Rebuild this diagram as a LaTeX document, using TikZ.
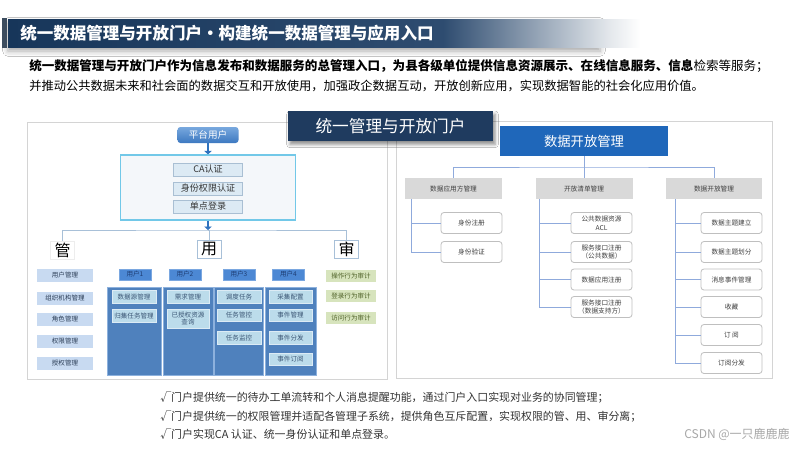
\documentclass[tikz,border=0pt]{standalone}
\usepackage{fontspec}
\setmainfont{Noto Sans CJK SC}
\usetikzlibrary{arrows.meta,shadows.blur,calc}
\newdimen\pxu
\pxu=0.75pt
\newcommand\myfs[2]{\fontsize{#1}{#2}\selectfont}
\definecolor{navyA}{HTML}{17365A}
\definecolor{navyB}{HTML}{2E4C70}
\definecolor{navyC}{HTML}{1F3B5F}
\definecolor{fadeEnd}{HTML}{E4E8EC}
\definecolor{barleft}{HTML}{3D4D5F}
\definecolor{panelgrey}{HTML}{D4D4D4}
\definecolor{puTop}{HTML}{78A8DE}
\definecolor{puBot}{HTML}{3C78C0}
\definecolor{authBorder}{HTML}{72C8E8}
\definecolor{authFill}{HTML}{F4F7FA}
\definecolor{authInner}{HTML}{DCEAF4}
\definecolor{authInnerD}{HTML}{A9BFD3}
\definecolor{darktext}{HTML}{333333}
\definecolor{lline}{HTML}{A8C0D8}
\definecolor{arrowblue}{HTML}{2F72BE}
\definecolor{gfill}{HTML}{C8DAF1}
\definecolor{gtext}{HTML}{2C3E57}
\definecolor{uhead}{HTML}{4C88D4}
\definecolor{uheadD}{HTML}{7AA7E0}
\definecolor{uheadT}{HTML}{1E3D73}
\definecolor{ucol}{HTML}{4F81BD}
\definecolor{ucolD}{HTML}{8DB1DD}
\definecolor{ibox}{HTML}{BCDCEB}
\definecolor{iboxD}{HTML}{DCEBF5}
\definecolor{iboxT}{HTML}{3B5675}
\definecolor{sfill}{HTML}{D7E4BD}
\definecolor{stext}{HTML}{4F6228}
\definecolor{rtop}{HTML}{1F67BA}
\definecolor{rcat}{HTML}{D9D9D9}
\definecolor{rtext}{HTML}{404040}
\definecolor{rchildD}{HTML}{BFBFBF}
\definecolor{rline}{HTML}{8FAADC}
\definecolor{wmgrey}{HTML}{A8A8A8}
\tikzset{
  panel/.style={draw=panelgrey, line width=1\pxu},
  authin/.style={fill=authInner, draw=authInnerD, line width=0.6\pxu, minimum width=69\pxu, minimum height=13\pxu, inner sep=0pt, text=darktext, font=\myfs{6.8}{8}},
  bigchar/.style={inner sep=0pt, minimum width=24\pxu, minimum height=18\pxu, font=\myfs{12}{14}, text=black},
  gbox/.style={fill=gfill, minimum width=56\pxu, minimum height=13\pxu, inner sep=0pt, text=gtext, font=\myfs{4.9}{6}},
  uhbox/.style={fill=uhead, draw=uheadD, line width=0.6\pxu, minimum width=32\pxu, minimum height=11\pxu, inner sep=0pt, text=uheadT, font=\myfs{4.9}{6}},
  ucolbox/.style={fill=ucol, draw=ucolD, line width=0.8\pxu, minimum height=88\pxu, inner sep=0pt},
  ibx/.style={fill=ibox, draw=iboxD, line width=0.6\pxu, minimum height=12.5\pxu, inner sep=0pt, text=iboxT, font=\myfs{4.9}{5.6}, align=center},
  sbox/.style={fill=sfill, minimum width=50\pxu, minimum height=12\pxu, inner sep=0pt, text=stext, font=\myfs{4.9}{6}},
  conn/.style={draw=lline, line width=1\pxu},
  arr/.style={draw=arrowblue, line width=1.8pt, -{Triangle[width=5.5pt,length=2.6pt]}},
  rcatbox/.style={fill=rcat, minimum width=97\pxu, minimum height=21\pxu, inner sep=0pt, text=rtext, font=\myfs{5}{6}},
  rchild/.style={fill=white, draw=rchildD, line width=0.8\pxu, rounded corners=2.2pt, minimum width=61\pxu, minimum height=21\pxu, inner sep=0pt, text=rtext, font=\myfs{5}{6.4}, align=center},
  rconn/.style={draw=rline, line width=1\pxu},
  bottomtxt/.style={anchor=west, inner sep=0pt, text=darktext, font=\myfs{8.2}{10}},
}
\begin{document}
\begin{tikzpicture}[x=0.75pt,y=-0.75pt]
\useasboundingbox (0,0) rectangle (800,450);
\fill[white] (0,0) rectangle (800,450);

% ---------- header banner ----------
\fill[white, blur shadow={shadow xshift=0pt, shadow yshift=-3pt, shadow blur radius=4pt, shadow opacity=35}] (8,19) rectangle (600,47);
\shade[left color=navyA, right color=navyB] (8,19) rectangle (443,47);
\shade[left color=navyB, right color=fadeEnd] (443,19) rectangle (610,47);
\shade[left color=fadeEnd, right color=white] (610,19) rectangle (640,47);
\fill[barleft] (2,18) rectangle (7,48);
\node[anchor=west, inner sep=0pt, text=white, font=\bfseries\myfs{12.4}{14}] (title) at (20,33)
  {统一数据管理与开放门户·构建统一数据管理与应用入口};

% ---------- intro paragraph ----------
\node[anchor=west, inner sep=0pt, text=black, font=\myfs{9.4}{11}] (p1) at (29,66)
  {\textbf{统一数据管理与开放门户作为信息发布和数据服务的总管理入口，为县各级单位提供信息资源展示、在线信息服务、信息}检索等服务；};
\node[anchor=west, inner sep=0pt, text=black, font=\myfs{9.2}{11}] (p2) at (29,86)
  {并推动公共数据未来和社会面的数据交互和开放使用，加强政企数据互动，开放创新应用，实现数据智能的社会化应用价值。};

% ---------- panels ----------
\draw[panel] (27,122) rectangle (387,379);
\draw[panel] (396,121) rectangle (772,378);

% ---------- left panel ----------
\node[rounded corners=2.2pt, top color=puTop, bottom color=puBot, text=white, minimum width=61\pxu, minimum height=16\pxu, inner sep=0pt, font=\myfs{7.2}{8}] (pu) at (208,135) {平台用户};
\node[draw=authBorder, fill=authFill, line width=1.2\pxu, minimum width=175\pxu, minimum height=65\pxu, inner sep=0pt] (auth) at (208,187.5) {};
\node[authin] (ca) at (208,169.5) {CA认证};
\node[authin] (sf) at (208,188.5) {身份权限认证};
\node[authin] (dd) at (208,206.5) {单点登录};
\draw[arr] (pu.south) -- (auth.north);
\coordinate (hub) at (208,230);
\draw[arr] (auth.south) -- (hub);

\node[bigchar, draw=black!7] (guan) at (62.5,250) {管};
\node[bigchar, draw=lline, fill=white] (yong) at (209,249) {用};
\node[bigchar, draw=lline, fill=white] (shen) at (346.5,249) {审};
\draw[conn] (guan.north) |- (hub) -| (shen.north);
\draw[conn] (hub) -| (yong.north);

\node[gbox] (g1) at (65,275) {用户管理};
\node[gbox] (g2) at (65,298) {组织机构管理};
\node[gbox] (g3) at (65,319) {角色管理};
\node[gbox] (g4) at (65,341.5) {权限管理};
\node[gbox] (g5) at (65,363) {授权管理};

\node[uhbox] (u1) at (135,274.5) {用户1};
\node[uhbox] (u2) at (185,274.5) {用户2};
\node[uhbox] (u3) at (239,274.5) {用户3};
\node[uhbox] (u4) at (288.5,274.5) {用户4};

\node[ucolbox, minimum width=54\pxu] (col1) at (134,331) {};
\node[ucolbox, minimum width=50\pxu] (col2) at (188,331) {};
\node[ucolbox, minimum width=49\pxu] (col3) at (238.5,331) {};
\node[ucolbox, minimum width=51\pxu] (col4) at (290.5,331) {};

\node[ibx, minimum width=44\pxu] (i11) at (134,297) {数据源管理};
\node[ibx, minimum width=44\pxu] (i12) at (134,316) {归集任务管理};
\node[ibx, minimum width=42\pxu] (i21) at (188,297) {需求管理};
\node[ibx, minimum width=42\pxu, minimum height=19\pxu] (i22) at (188,318.5) {已授权资源\\查询};
\node[ibx, minimum width=44\pxu] (i31) at (239,297) {调度任务};
\node[ibx, minimum width=44\pxu] (i32) at (239,315.5) {任务管控};
\node[ibx, minimum width=44\pxu] (i33) at (239,338) {任务监控};
\node[ibx, minimum width=43\pxu] (i41) at (290.5,297) {采集配置};
\node[ibx, minimum width=43\pxu] (i42) at (290.5,315.5) {事件管理};
\node[ibx, minimum width=43\pxu] (i43) at (290.5,338) {事件分发};
\node[ibx, minimum width=43\pxu] (i44) at (290.5,359.5) {事件订阅};

\node[sbox] (s1) at (351,276) {操作行为审计};
\node[sbox] (s2) at (351,296) {登录行为审计};
\node[sbox] (s3) at (351,318) {访问行为审计};

% ---------- right panel ----------
\node[fill=rtop, minimum width=168\pxu, minimum height=30\pxu, inner sep=0pt, text=white, font=\myfs{10}{12}] (dm) at (584,141) {数据开放管理};
\coordinate (rh) at (584,167);
\node[rcatbox] (cat1) at (453.5,188.5) {数据应用方管理};
\node[rcatbox] (cat2) at (584,188.5) {开放清单管理};
\node[rcatbox, minimum width=96\pxu] (cat3) at (714,188.5) {数据开放管理};
\draw[rconn] (dm.south) -- (rh);
\draw[rconn] (cat1.north) |- (rh) -| (cat3.north);
\draw[rconn] (rh) -- (cat2.north);

% column 1
\node[rchild] (a1) at (471.5,223) {身份注册};
\node[rchild] (a2) at (471.5,252) {身份验证};
\coordinate (t1) at ($(cat1.south west)+(7,0)$);
\draw[rconn] (t1) |- (a1.west);
\draw[rconn] (t1) |- (a2.west);

% column 2
\node[rchild] (b1) at (601.5,223) {公共数据资源\\ACL};
\node[rchild] (b2) at (601.5,252) {服务接口注册\\（公共数据）};
\node[rchild] (b3) at (601.5,279.5) {数据应用注册};
\node[rchild] (b4) at (601.5,307) {服务接口注册\\（数据支持方）};
\coordinate (t2) at ($(cat2.south west)+(4,0)$);
\foreach \n in {b1,b2,b3,b4} { \draw[rconn] (t2) |- (\n.west); }

% column 3
\node[rchild] (c1) at (731.5,223) {数据主题建立};
\node[rchild] (c2) at (731.5,252) {数据主题划分};
\node[rchild] (c3) at (731.5,279.5) {消息事件管理};
\node[rchild] (c4) at (731.5,307) {收藏};
\node[rchild] (c5) at (731.5,335) {订 阅};
\node[rchild] (c6) at (731.5,363) {订阅分发};
\coordinate (t3) at ($(cat3.south west)+(10,0)$);
\foreach \n in {c1,c2,c3,c4,c5,c6} { \draw[rconn] (t3) |- (\n.west); }

% ---------- centre title ----------
\node[fill=navyC, minimum width=205\pxu, minimum height=30\pxu, inner sep=0pt, text=white, font=\myfs{12.5}{14},
  blur shadow={shadow xshift=1.5pt, shadow yshift=-2.5pt, shadow blur radius=2.5pt, shadow opacity=45}] (ctitle) at (390.5,126) {统一管理与开放门户};

% ---------- bottom notes ----------
\node[bottomtxt] (n1) at (160,398) {√门户提供统一的待办工单流转和个人消息提醒功能，通过门户入口实现对业务的协同管理；};
\node[bottomtxt] (n2) at (160,417) {√门户提供统一的权限管理并适配各管理子系统，提供角色互斥配置，实现权限的管、用、审分离；};
\node[bottomtxt] (n3) at (160,434) {√门户实现CA 认证、统一身份认证和单点登录。};
\node[anchor=east, inner sep=0pt, text=wmgrey, font=\myfs{9}{11}] (wm) at (790,434) {CSDN @一只鹿鹿鹿};
\end{tikzpicture}
\end{document}
